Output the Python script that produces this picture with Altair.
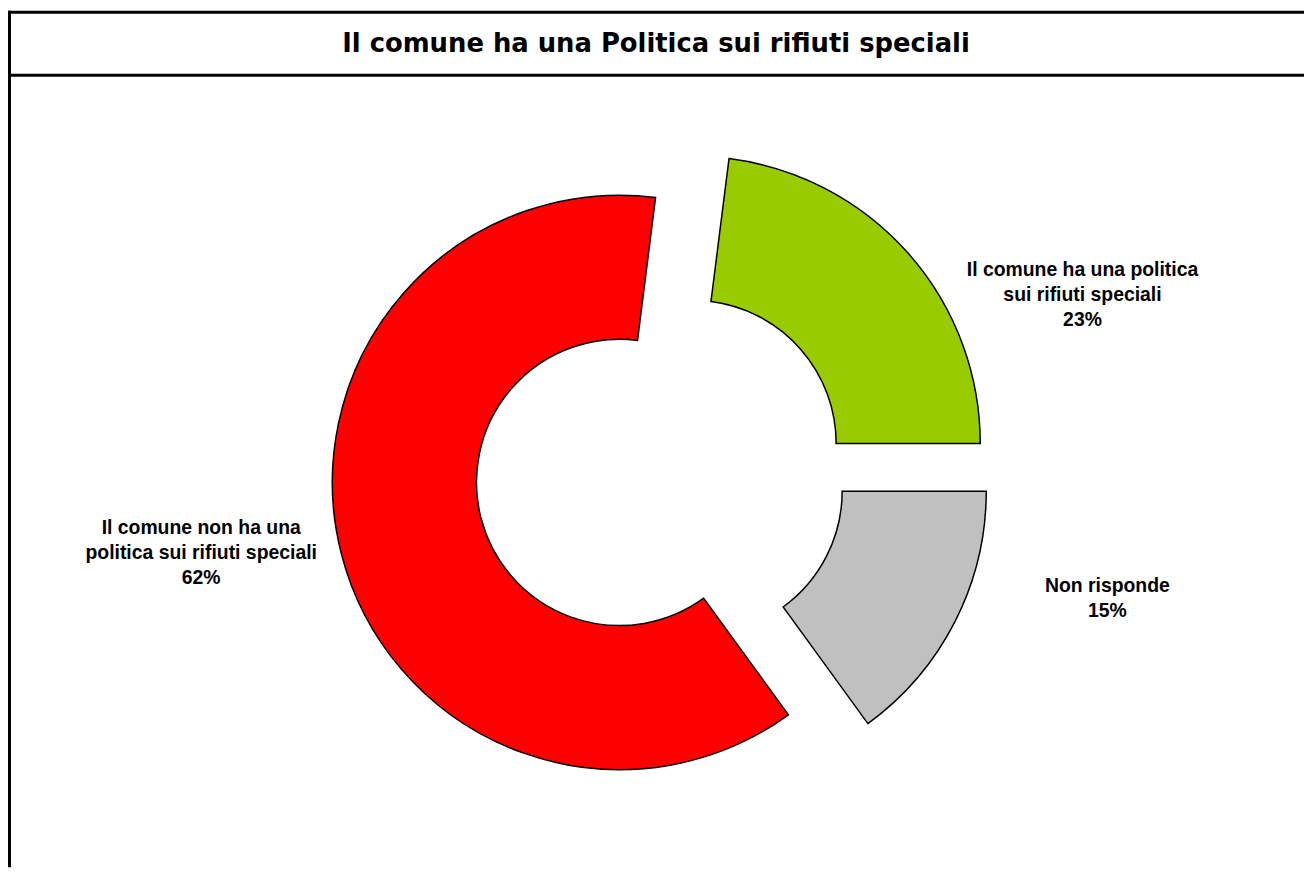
import altair as alt
import pandas as pd

# ---- data ----
categories = [
    "Il comune ha una politica sui rifiuti speciali",
    "Non risponde",
    "Il comune non ha una politica sui rifiuti speciali",
]
label_lines = [
    ["Il comune ha una politica", "sui rifiuti speciali"],
    ["Non risponde"],
    ["Il comune non ha una", "politica sui rifiuti speciali"],
]
values = [23, 15, 62]
colors = ["#99CC00", "#C0C0C0", "#FF0000"]
title_text = "Il comune ha una Politica sui rifiuti speciali"

# ---- layout / style ----
W, H = 1304, 862
OX, OY = 657, 464          # pie centre
EXPLODE = 43               # explosion distance
R_OUT, R_IN = 289, 144
START_DEG = 7.2            # angle of first slice
LAB_A, LAB_B = 425, 420    # label ellipse
LAB_DY = -12               # label vertical nudge
KEEP = 0.55                # label angle: fraction of deviation from horizontal kept

df = pd.DataFrame({
    "order": list(range(len(categories))),
    "cat": categories,
    "value": values,
    "label": ["\n".join(l + [f"{v}%"]) for l, v in zip(label_lines, values)],
})

base = alt.Chart(df).transform_joinaggregate(
    total="sum(value)"
).transform_window(
    cum="sum(value)", sort=[alt.SortField("order")], frame=[None, 0]
).transform_calculate(
    t1=f"{START_DEG}*PI/180 + 2*PI*(datum.cum - datum.value)/datum.total",
    t2=f"{START_DEG}*PI/180 + 2*PI*datum.cum/datum.total",
).transform_calculate(
    mid="(datum.t1 + datum.t2)/2"
).transform_calculate(
    hz="sin(datum.mid) >= 0 ? PI/2 : 3*PI/2"
).transform_calculate(
    phi=f"datum.hz + (datum.mid - datum.hz)*{KEEP}",
    cx=f"{OX} + {EXPLODE}*sin(datum.mid)",
    cy=f"{OY} - {EXPLODE}*cos(datum.mid)",
).transform_calculate(
    lx=f"datum.cx + {LAB_A}*sin(datum.phi)",
    ly=f"datum.cy - {LAB_B}*cos(datum.phi) + ({LAB_DY})",
)

arcs = base.mark_arc(
    innerRadius=R_IN, outerRadius=R_OUT, stroke="black", strokeWidth=1.5
).encode(
    x=alt.X("cx:Q", scale=None, axis=None),
    y=alt.Y("cy:Q", scale=None, axis=None),
    theta=alt.Theta("t1:Q", scale=None, stack=None),
    theta2="t2:Q",
    color=alt.Color("cat:N", scale=alt.Scale(domain=categories, range=colors), legend=None),
)

labels = base.mark_text(
    font="Liberation Sans", fontWeight="bold", fontSize=19.5, lineHeight=25,
    align="center", baseline="middle", lineBreak="\n", color="black",
).encode(
    x=alt.X("lx:Q", scale=None, axis=None),
    y=alt.Y("ly:Q", scale=None, axis=None),
    text="label:N",
)

title = alt.Chart(pd.DataFrame({"t": [title_text]})).mark_text(
    font="DejaVu Sans", fontWeight="bold", fontSize=26, align="center", baseline="middle",
    color="black",
).encode(x=alt.value(W / 2), y=alt.value(34), text="t:N")

frame_df = pd.DataFrame({"k": [0]})
top_line = alt.Chart(frame_df).mark_rule(color="black", strokeWidth=3).encode(
    x=alt.value(0), x2=alt.value(W), y=alt.value(1.5))
div_line = alt.Chart(frame_df).mark_rule(color="black", strokeWidth=3).encode(
    x=alt.value(0), x2=alt.value(W), y=alt.value(65))
left_line = alt.Chart(frame_df).mark_rule(color="black", strokeWidth=3).encode(
    x=alt.value(1.5), y=alt.value(0), y2=alt.value(H))

chart = alt.layer(arcs, labels, title, top_line, div_line, left_line).properties(
    width=W, height=H, padding=0, autosize=alt.AutoSizeParams(type="none"),
    background="white",
).configure_view(stroke=None)

chart.save("out.html", embed_options={"renderer": "svg", "actions": False})
